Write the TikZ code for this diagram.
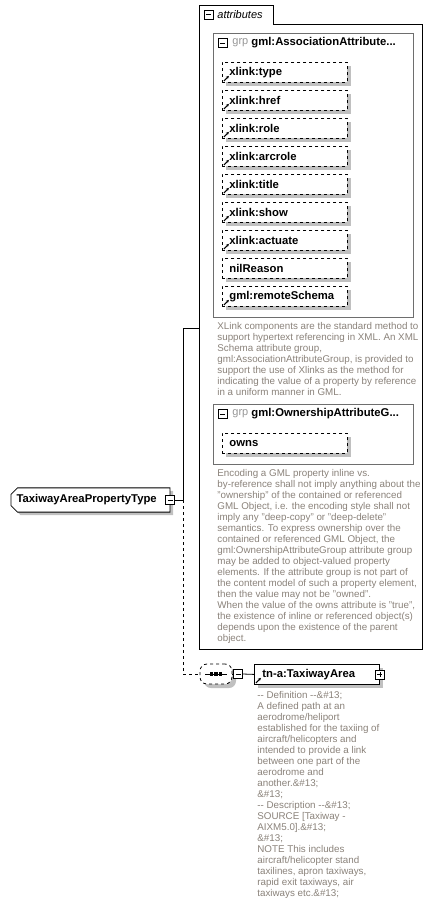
\documentclass[tikz,border=0pt]{standalone}
\usepackage{fontspec}
\setmainfont{Liberation Sans}
\usepackage{tikz}
\usetikzlibrary{shapes.misc, shadows, arrows.meta}
\tikzset{>=latex}
\definecolor{descgray}{RGB}{138, 130, 122}
\definecolor{shadowgray}{RGB}{192, 192, 192}
\definecolor{grpgray}{RGB}{150, 150, 150}
\definecolor{grpline}{RGB}{110, 110, 110}
\newcommand\lblfont{\fontsize{11.3}{13}\selectfont\bfseries}
\newcommand\descfont{\fontsize{9.8}{11}\selectfont\color{descgray}}
\newcommand\dd{\mbox{-}\mbox{-}}
\tikzset{
  shade box/.style={drop shadow={shadow xshift=4pt, shadow yshift=-4pt, fill=shadowgray, opacity=1}},
  attrbox/.style={draw, dashed, fill=white, shade box, anchor=north west, minimum height=20pt,
    text width=111pt, inner xsep=7pt, inner ysep=0pt, align=left, font=\lblfont},
  elembox/.style={draw, fill=white, shade box, anchor=north west, minimum height=20pt,
    text width=109pt, inner xsep=8pt, inner ysep=0pt, align=left, font=\lblfont},
  refmark/.style={path picture={\draw[solid, line width=1pt, -{Stealth[length=3pt, width=3pt]}]
    ([xshift=1.5pt, yshift=1.5pt]path picture bounding box.south west) -- ++(5pt, 5pt);}},
  minusbox/.style={draw, solid, fill=white, minimum size=9pt, inner sep=0pt, line width=0.6pt,
    path picture={\draw[line width=0.6pt] ([xshift=2pt]path picture bounding box.west) -- ([xshift=-2pt]path picture bounding box.east);}},
  plusbox/.style={draw, solid, fill=white, minimum size=9pt, inner sep=0pt, line width=0.6pt,
    path picture={\draw[line width=0.6pt] ([xshift=2pt]path picture bounding box.west) -- ([xshift=-2pt]path picture bounding box.east);
      \draw[line width=0.6pt] ([yshift=2pt]path picture bounding box.south) -- ([yshift=-2pt]path picture bounding box.north);}},
  plainlbl/.style={anchor=west, inner sep=0pt},
  desc/.style={anchor=north west, inner sep=0pt, align=left, font=\descfont},
}

\begin{document}
\begin{tikzpicture}[x=1pt, y=-1pt, line width=0.8pt]
\useasboundingbox (0,0) rectangle (433,914);

% attributes frame with its tab
\draw (199,649) -- (199,5) -- (273,5) -- (273,24) -- (422,24) -- (422,649) -- cycle;
\node[minusbox] (attrminus) at (208.5,14.5) {};
\node[plainlbl, font=\fontsize{11}{13}\selectfont\itshape] (attrlbl) at (217,14.5) {attributes};

% association attribute group
\draw[grpline] (213,33) rectangle (413,317);
\node[minusbox] (gaminus) at (222.5,43) {};
\node[plainlbl, font=\fontsize{11}{13}\selectfont\color{grpgray}] (gatag) at (232,43) {grp};
\node[plainlbl, font=\lblfont] (ganame) at (251,43) {gml:AssociationAttribute...};
\node[attrbox, refmark] (xtype) at (222,62) {xlink:type};
\node[attrbox, refmark] (xhref) at (222,90) {xlink:href};
\node[attrbox, refmark] (xrole) at (222,118) {xlink:role};
\node[attrbox, refmark] (xarcrole) at (222,146) {xlink:arcrole};
\node[attrbox, refmark] (xtitle) at (222,174) {xlink:title};
\node[attrbox, refmark] (xshow) at (222,202) {xlink:show};
\node[attrbox, refmark] (xactuate) at (222,230) {xlink:actuate};
\node[attrbox] (nilreason) at (222,258) {nilReason};
\node[attrbox, refmark] (remoteschema) at (222,286) {gml:remoteSchema};
\node[desc] (xlinkdesc) at (217,322) {XLink components are the standard method to\\
support hypertext referencing in XML. An XML\\
Schema attribute group,\\
gml:AssociationAttributeGroup, is provided to\\
support the use of Xlinks as the method for\\
indicating the value of a property by reference\\
in a uniform manner in GML.};

% ownership attribute group
\draw[grpline] (213,404) rectangle (413,464);
\node[minusbox] (gominus) at (222.5,414) {};
\node[plainlbl, font=\fontsize{11}{13}\selectfont\color{grpgray}] (gotag) at (232,414) {grp};
\node[plainlbl, font=\lblfont] (goname) at (251,414) {gml:OwnershipAttributeG...};
\node[attrbox] (owns) at (222,433) {owns};
\node[desc] (owndesc) at (217,469) {Encoding a GML property inline vs.\\
by-reference shall not imply anything about the\\
"ownership" of the contained or referenced\\
GML Object, i.e. the encoding style shall not\\
imply any "deep-copy" or "deep-delete"\\
semantics. To express ownership over the\\
contained or referenced GML Object, the\\
gml:OwnershipAttributeGroup attribute group\\
may be added to object-valued property\\
elements. If the attribute group is not part of\\
the content model of such a property element,\\
then the value may not be "owned".\\
When the value of the owns attribute is "true",\\
the existence of inline or referenced object(s)\\
depends upon the existence of the parent\\
object.};

% the complex type
\node[chamfered rectangle, chamfered rectangle corners={north west, south west},
  chamfered rectangle xsep=3pt, draw, fill=white,
  drop shadow={shadow xshift=3pt, shadow yshift=-3pt, fill=shadowgray, opacity=1},
  minimum width=159pt, minimum height=20pt, text width=148pt, inner xsep=0pt, align=left,
  font=\lblfont] (ptype) at (90.5,500) {TaxiwayAreaPropertyType};
\node[minusbox] (ptminus) at (170,500) {};
\coordinate (fork) at (183,500);
\coordinate (attrin) at (199,328);
\draw (ptminus.east) -- (fork) |- (attrin);

% sequence and its element
\node[draw, dashed, rounded corners=7pt, fill=white, shade box,
  minimum width=32pt, minimum height=20pt, inner sep=0pt] (seq) at (216,674) {};
\draw (205,674) -- (227,674);
\fill (209.6,672.2) rectangle (213,675.8);
\fill (214.3,672.2) rectangle (217.7,675.8);
\fill (219,672.2) rectangle (222.4,675.8);
\draw[dashed] (fork) |- (seq.west);
\node[minusbox] (seqminus) at (238,674) {};
\draw (seq.east) -- (seqminus.west);
\node[elembox, refmark] (taxi) at (254,664) {tn-a:TaxiwayArea};
\draw (seqminus.east) -- (taxi.west);
\node[plusbox] (taxiplus) at (taxi.east) {};
\node[desc] (taxidesc) at (257,691) {\dd{} Definition \dd\&\#13;\\
A defined path at an\\
aerodrome/heliport\\
established for the taxiing of\\
aircraft/helicopters and\\
intended to provide a link\\
between one part of the\\
aerodrome and\\
another.\&\#13;\\
\&\#13;\\
\dd{} Description \dd\&\#13;\\
SOURCE [Taxiway -\\
AIXM5.0].\&\#13;\\
\&\#13;\\
NOTE This includes\\
aircraft/helicopter stand\\
taxilines, apron taxiways,\\
rapid exit taxiways, air\\
taxiways etc.\&\#13;};
\end{tikzpicture}
\end{document}
